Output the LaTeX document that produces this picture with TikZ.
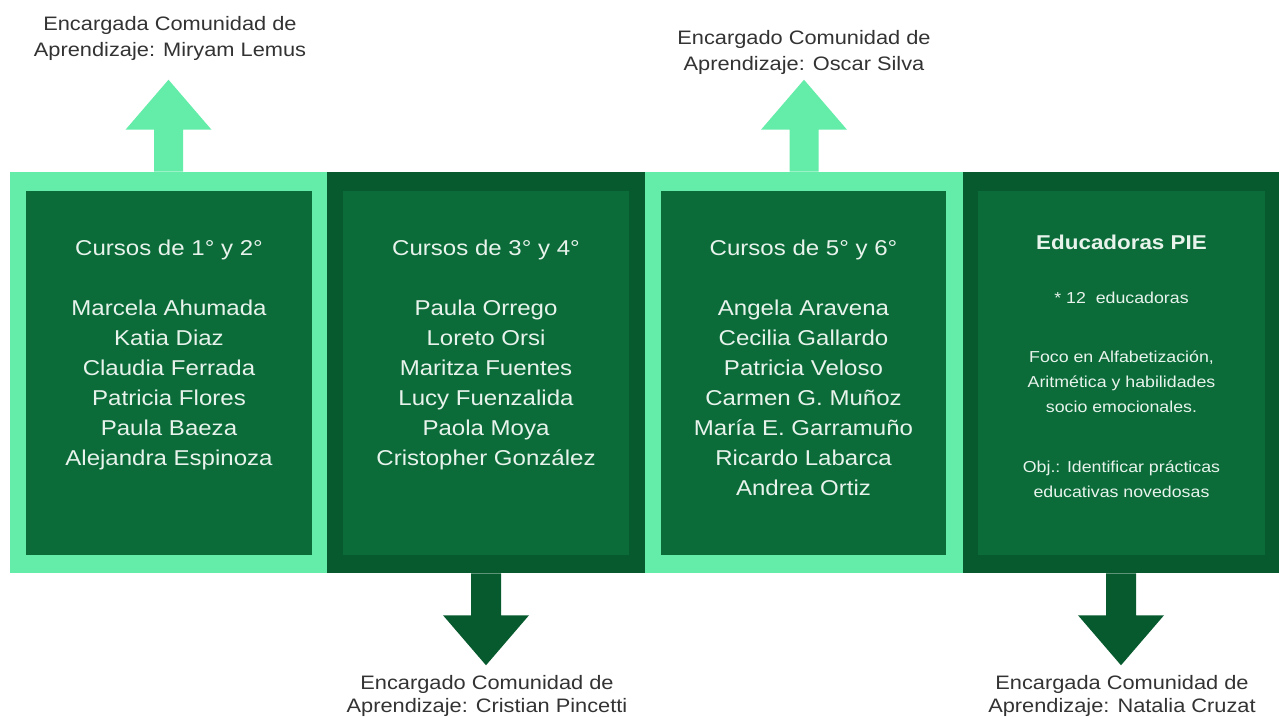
\documentclass[tikz,border=0pt]{standalone}
\usepackage{fontspec}
\setmainfont{Liberation Sans}[FakeStretch=1.12]
\usetikzlibrary{fit,calc}
\definecolor{mint}{HTML}{64ECA9}
\definecolor{darkg}{HTML}{075A2E}
\definecolor{innerg}{HTML}{0B6C3A}
\definecolor{paneltext}{HTML}{E8F3EC}
\definecolor{labeltext}{HTML}{333333}
\begin{document}
\begin{tikzpicture}[x=0.75pt,y=-0.75pt,
  outerL/.style={fill=mint, inner sep=0pt, draw=none},
  outerD/.style={fill=darkg, inner sep=0pt, draw=none},
  innerbox/.style={fill=innerg, inner sep=0pt, draw=none},
  names/.style={text=paneltext, align=center, anchor=north, inner sep=0pt, font=\fontsize{16.1pt}{22.5pt}\selectfont},
  small/.style={text=paneltext, align=center, anchor=north, inner sep=0pt, font=\fontsize{11.9pt}{18.75pt}\selectfont},
  toplabel/.style={text=labeltext, align=center, anchor=north, inner sep=0pt, font=\fontsize{14.6pt}{19.8pt}\selectfont},
  botlabel/.style={text=labeltext, align=center, anchor=north, inner sep=0pt, font=\fontsize{14.6pt}{17.3pt}\selectfont}]
\useasboundingbox (0,0) rectangle (1279,717);
\fill[white] (0,0) rectangle (1279,717);
% outer panels
\node[outerL, fit={(10,172) (327,573)}] (p1o) {};
\node[outerD, fit={(327,172) (645,573)}] (p2o) {};
\node[outerL, fit={(645,172) (963,573)}] (p3o) {};
\node[outerD, fit={(963,172) (1279,573)}] (p4o) {};
% inner boxes
\node[innerbox, fit={(26,191) (312,555)}] (p1i) {};
\node[innerbox, fit={(343,191) (629,555)}] (p2i) {};
\node[innerbox, fit={(661,191) (946,555)}] (p3i) {};
\node[innerbox, fit={(978,191) (1265,555)}] (p4i) {};
% up arrows
\foreach \p in {p1o,p3o}{
  \fill[mint] ($(\p.north)+(-14.5,0)$) -- ($(\p.north)+(-14.5,-42)$) -- ($(\p.north)+(-43,-42)$)
    -- ($(\p.north)+(0,-92)$) -- ($(\p.north)+(43,-42)$) -- ($(\p.north)+(14.5,-42)$)
    -- ($(\p.north)+(14.5,0)$) -- cycle;
}
% down arrows
\foreach \p in {p2o,p4o}{
  \fill[darkg] ($(\p.south)+(-15,0)$) -- ($(\p.south)+(-15,42)$) -- ($(\p.south)+(-43,42)$)
    -- ($(\p.south)+(0,92)$) -- ($(\p.south)+(43,42)$) -- ($(\p.south)+(15,42)$)
    -- ($(\p.south)+(15,0)$) -- cycle;
}
% labels
\node[toplabel] (l1) at (170,16) {Encargada Comunidad de\\Aprendizaje: Miryam Lemus};
\node[toplabel] (l3) at (804,30) {Encargado Comunidad de\\Aprendizaje: Oscar Silva};
\node[botlabel] (l2) at (487,675) {Encargado Comunidad de\\Aprendizaje: Cristian Pincetti};
\node[botlabel] (l4) at (1122,675) {Encargada Comunidad de\\Aprendizaje: Natalia Cruzat};
% panel texts
\node[names] (t1) at (p1i.center |- 0,240) {Cursos de 1° y 2°\\[22.5pt]Marcela Ahumada\\Katia Diaz\\Claudia Ferrada\\Patricia Flores\\Paula Baeza\\Alejandra Espinoza};
\node[names] (t2) at (p2i.center |- 0,240) {Cursos de 3° y 4°\\[22.5pt]Paula Orrego\\Loreto Orsi\\Maritza Fuentes\\Lucy Fuenzalida\\Paola Moya\\Cristopher González};
\node[names] (t3) at (p3i.center |- 0,240) {Cursos de 5° y 6°\\[22.5pt]Angela Aravena\\Cecilia Gallardo\\Patricia Veloso\\Carmen G. Muñoz\\María E. Garramuño\\Ricardo Labarca\\Andrea Ortiz};
\node[text=paneltext, inner sep=0pt, anchor=base, font=\bfseries\fontsize{15pt}{18pt}\selectfont] (t4) at (p4i.center |- 0,249) {Educadoras PIE};
\node[small, anchor=base] (t4a) at (p4i.center |- 0,303) {* 12~~educadoras};
\node[small] (t4b) at (p4i.center |- 0,351) {Foco en Alfabetización,\\Aritmética y habilidades\\socio emocionales.};
\node[small] (t4c) at (p4i.center |- 0,461) {Obj.: Identificar prácticas\\educativas novedosas};
\end{tikzpicture}
\end{document}
